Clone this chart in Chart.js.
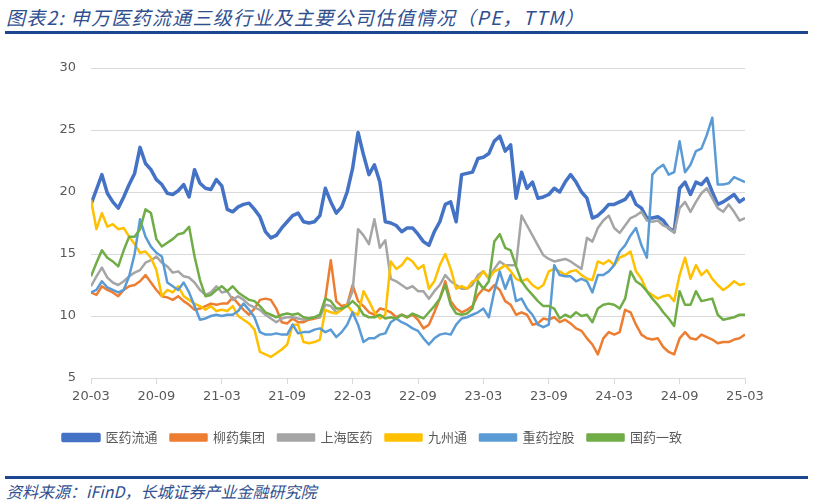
<!DOCTYPE html>
<html>
<head>
<meta charset="utf-8">
<script src="https://cdn.jsdelivr.net/npm/chart.js@4.4.1/dist/chart.umd.min.js"></script>
<style>
  html, body { margin: 0; padding: 0; background: #ffffff; }
  body { width: 815px; height: 502px; position: relative; overflow: hidden; }
  #title {
    position: absolute; left: 6px; top: 3px;
    font-family: "Noto Sans CJK SC", sans-serif; font-style: italic;
    font-size: 19px; letter-spacing: 1.3px; color: #2f4f8f; white-space: nowrap;
  }
  .rule { position: absolute; left: 5px; width: 803px; height: 3px; background: #1d4691; }
  #footer {
    position: absolute; left: 6px; top: 479px;
    font-family: "Noto Sans CJK SC", sans-serif; font-style: italic;
    font-size: 16px; color: #2f4f8f; white-space: nowrap;
  }
  #chartBox { position: absolute; left: 0; top: 0; width: 815px; height: 470px; }
</style>
</head>
<body>
<div id="title">图表2: 申万医药流通三级行业及主要公司估值情况（PE，TTM）</div>
<div class="rule" style="top:31px"></div>
<div id="chartBox"><canvas id="peChart" width="815" height="470"></canvas></div>
<div class="rule" style="top:476px"></div>
<div id="footer">资料来源：iFinD，长城证券产业金融研究院</div>

<script>
// half-month steps from 2020-03 (index 0) to 2025-03 (index 120)
const tickLabels = ["20-03", "20-09", "21-03", "21-09", "22-03", "22-09", "23-03", "23-09", "24-03", "24-09", "25-03"];
const seriesNames = ["医药流通", "柳药集团", "上海医药", "九州通", "重药控股", "国药一致"];
const seriesColors = ["#4472c4", "#ed7d31", "#a5a5a5", "#ffc000", "#5b9bd5", "#70ad47"];

const yiyaoLiutong = [
  19.0, 20.2, 21.4, 19.9, 19.2, 18.7, 19.6, 20.6, 21.5, 23.6, 22.3, 21.8, 21.0, 20.6, 19.9, 19.8, 20.1, 20.6, 19.6, 21.8,
  20.7, 20.3, 20.2, 21.0, 20.5, 18.6, 18.4, 18.8, 19.0, 19.1, 18.6, 18.0, 16.8, 16.3, 16.5, 17.1, 17.6, 18.1, 18.3, 17.6,
  17.5, 17.6, 18.1, 20.3, 19.2, 18.3, 18.8, 20.0, 21.9, 24.8, 23.0, 21.4, 22.2, 20.8, 17.6, 17.5, 17.3, 16.8, 17.1, 17.1,
  16.6, 16.0, 15.7, 16.8, 17.6, 19.0, 19.2, 17.6, 21.4, 21.5, 21.6, 22.7, 22.8, 23.1, 24.1, 24.5, 23.3, 23.8, 19.5, 21.6,
  20.3, 20.8, 19.5, 19.6, 19.8, 20.3, 20.0, 20.8, 21.4, 20.8, 20.0, 19.5, 17.9, 18.1, 18.5, 19.0, 19.0, 19.2, 19.4, 20.0,
  19.0, 18.7, 17.9, 17.9, 18.0, 17.7, 17.1, 16.8, 20.3, 20.8, 19.8, 20.8, 20.6, 21.1, 20.0, 19.0, 19.2, 19.5, 19.8, 19.2,
  19.5
];
const liuyaoJituan = [
  11.9, 11.7, 12.4, 12.1, 11.9, 11.6, 12.1, 12.4, 12.5, 12.8, 13.3, 12.7, 12.1, 11.6, 11.5, 11.3, 11.6, 11.2, 10.9, 10.5,
  10.6, 10.8, 11.0, 10.9, 11.0, 11.0, 11.5, 11.0, 10.5, 10.1, 10.6, 11.3, 11.4, 11.3, 10.6, 9.5, 9.4, 9.8, 9.5, 9.5,
  9.7, 9.8, 9.9, 11.4, 14.5, 11.2, 10.8, 10.9, 12.5, 11.2, 10.8, 10.3, 10.1, 10.6, 10.5, 10.3, 9.9, 10.1, 9.9, 10.1,
  9.7, 9.0, 9.3, 10.3, 11.4, 12.8, 11.2, 10.6, 10.3, 10.5, 10.8, 11.7, 12.2, 12.0, 12.5, 12.1, 11.2, 10.9, 10.1, 10.3,
  10.1, 9.3, 9.4, 9.8, 9.7, 9.9, 9.5, 9.7, 9.4, 9.0, 8.8, 8.2, 7.7, 6.9, 8.2, 8.7, 8.5, 8.7, 10.5, 10.3,
  9.3, 8.5, 8.2, 8.1, 8.2, 7.5, 7.1, 6.9, 8.2, 8.7, 8.2, 8.1, 8.5, 8.3, 8.1, 7.8, 7.9, 7.9, 8.1, 8.2,
  8.5
];
const shanghaiYiyao = [
  12.4, 13.2, 13.9, 13.1, 12.7, 12.5, 12.8, 13.2, 13.5, 13.7, 14.3, 14.5, 14.8, 14.3, 14.0, 13.5, 13.6, 13.2, 13.1, 12.7,
  12.1, 11.7, 11.9, 12.4, 11.9, 12.0, 11.3, 11.6, 11.3, 10.9, 10.7, 10.5, 10.1, 9.8, 9.5, 9.8, 9.9, 9.9, 9.8, 9.7,
  9.8, 9.9, 9.9, 10.9, 10.8, 10.3, 10.5, 10.9, 12.0, 17.0, 16.5, 15.8, 17.8, 15.5, 16.1, 13.0, 12.8, 12.5, 12.2, 12.4,
  12.0, 12.0, 11.4, 12.0, 12.5, 13.3, 12.8, 12.5, 12.2, 12.2, 12.5, 13.3, 13.6, 13.0, 13.8, 14.4, 14.1, 14.1, 14.1, 18.1,
  17.3, 16.5, 15.7, 14.9, 14.6, 14.4, 14.5, 14.6, 14.4, 14.1, 13.8, 16.3, 16.0, 17.1, 17.7, 18.1, 17.1, 16.7, 17.3, 17.9,
  18.1, 18.4, 17.7, 17.6, 17.7, 17.3, 17.1, 16.7, 18.7, 19.2, 18.4, 19.2, 19.9, 20.3, 19.5, 18.7, 18.4, 19.0, 18.4, 17.7,
  17.9
];
const jiuzhoutong = [
  19.4, 17.0, 18.3, 17.2, 17.4, 17.0, 17.1, 16.4, 15.8, 15.1, 15.2, 14.7, 13.7, 11.6, 12.1, 11.9, 12.4, 11.6, 11.3, 11.0,
  10.8, 10.5, 10.8, 10.4, 10.5, 10.4, 10.8, 10.0, 9.7, 9.4, 8.9, 7.1, 6.9, 6.7, 7.0, 7.3, 7.7, 9.3, 9.3, 7.9,
  7.8, 7.9, 8.1, 10.5, 10.3, 10.2, 10.5, 10.9, 10.3, 10.1, 12.0, 11.2, 10.3, 9.8, 10.1, 14.4, 13.8, 14.1, 14.7, 14.4,
  13.8, 14.1, 12.2, 12.8, 14.1, 15.0, 13.8, 12.2, 12.4, 12.2, 12.8, 13.0, 13.6, 13.0, 13.6, 13.8, 14.1, 13.6, 13.0, 12.8,
  13.0, 12.5, 12.2, 12.5, 13.6, 13.8, 13.6, 13.3, 13.6, 13.7, 13.3, 13.0, 12.9, 14.4, 14.2, 14.5, 14.1, 14.7, 14.9, 15.2,
  13.6, 13.0, 12.0, 11.7, 11.4, 11.6, 11.7, 11.2, 13.3, 14.7, 13.0, 14.1, 13.3, 13.7, 13.0, 12.5, 12.1, 12.4, 12.8, 12.5,
  12.6
];
const zhongyaoKonggu = [
  11.9, 12.1, 12.8, 12.3, 12.1, 11.9, 12.1, 13.2, 15.0, 17.8, 16.4, 15.6, 15.1, 14.8, 12.7, 12.4, 12.1, 12.7, 11.9, 10.8,
  9.7, 9.8, 10.0, 10.1, 10.0, 10.1, 10.1, 10.4, 11.0, 10.5, 9.9, 8.7, 8.5, 8.5, 8.6, 8.5, 8.5, 9.3, 8.6, 8.7,
  8.7, 8.9, 9.0, 8.7, 8.9, 8.3, 8.7, 9.3, 10.3, 9.3, 7.9, 8.2, 8.2, 8.5, 8.6, 9.5, 9.8, 9.5, 9.3, 9.0,
  8.8, 8.2, 7.7, 8.2, 8.5, 8.6, 8.5, 9.3, 9.8, 9.9, 10.1, 10.3, 10.6, 9.9, 12.0, 13.6, 12.2, 13.3, 11.2, 11.4,
  10.6, 10.1, 9.3, 9.1, 9.3, 14.1, 13.3, 13.2, 13.2, 12.8, 13.0, 12.8, 11.9, 13.3, 13.3, 13.6, 14.1, 15.2, 15.7, 16.5,
  17.1, 15.7, 14.7, 21.4, 21.9, 22.2, 21.4, 21.6, 24.1, 21.6, 22.2, 23.3, 23.5, 24.6, 26.0, 20.6, 20.6, 20.7, 21.2, 21.0,
  20.8
];
const guoyaoYizhi = [
  13.2, 14.3, 15.3, 14.7, 14.4, 14.0, 15.3, 16.4, 16.4, 17.0, 18.6, 18.3, 16.2, 15.6, 15.9, 16.2, 16.6, 16.7, 17.2, 14.8,
  12.9, 11.6, 11.7, 12.1, 12.4, 12.0, 12.4, 11.9, 11.6, 11.3, 11.2, 10.8, 10.3, 10.1, 9.9, 10.1, 10.2, 10.1, 10.2, 9.9,
  9.8, 9.9, 10.1, 11.4, 11.2, 10.6, 10.6, 10.8, 11.2, 10.8, 10.1, 9.9, 9.9, 10.1, 9.8, 9.9, 9.8, 10.1, 9.9, 10.2,
  10.0, 9.8, 10.3, 10.8, 11.4, 12.5, 10.9, 10.2, 10.1, 10.2, 10.6, 12.8, 12.2, 12.8, 16.0, 16.6, 15.5, 15.3, 14.0, 12.8,
  12.2, 11.7, 11.2, 10.8, 10.8, 10.6, 9.8, 10.1, 9.9, 10.3, 10.0, 10.1, 9.5, 10.6, 10.9, 11.0, 10.9, 10.6, 11.4, 13.6,
  12.8, 12.5, 12.0, 11.4, 10.9, 10.3, 9.8, 9.2, 12.0, 10.9, 10.9, 12.0, 11.2, 11.3, 11.4, 10.1, 9.7, 9.8, 9.9, 10.1,
  10.1
];

const allSeries = [yiyaoLiutong, liuyaoJituan, shanghaiYiyao, jiuzhoutong, zhongyaoKonggu, guoyaoYizhi];

function buildDatasets() {
  return allSeries.map((values, idx) => ({
    label: seriesNames[idx],
    data: values.map((v, i) => ({ x: i, y: v })),
    borderColor: seriesColors[idx],
    backgroundColor: seriesColors[idx],
    borderWidth: idx === 0 ? 3.5 : 2.5,
    pointRadius: 0,
    tension: 0,
    borderJoinStyle: "round",
    order: allSeries.length - idx
  }));
}

const axisFont = { family: "'DejaVu Sans', sans-serif", size: 13 };

new Chart(document.getElementById("peChart"), {
  type: "line",
  data: { datasets: buildDatasets() },
  options: {
    responsive: false,
    animation: false,
    layout: { padding: { top: 68, left: 0, right: 70, bottom: 16 } },
    plugins: {
      tooltip: { enabled: false },
      legend: {
        position: "bottom",
        labels: {
          boxWidth: 36,
          boxHeight: 6,
          padding: 13,
          color: "#595959",
          font: { family: "'Noto Sans CJK SC', sans-serif", size: 13 },
          sort: (a, b) => a.datasetIndex - b.datasetIndex
        }
      }
    },
    scales: {
      x: {
        type: "linear",
        min: 0,
        max: 120,
        afterFit: (scale) => { scale.height = 40; },
        grid: { drawOnChartArea: false, drawTicks: true, tickLength: 6, tickColor: "#d9d9d9" },
        border: { color: "#d9d9d9" },
        ticks: {
          stepSize: 12,
          autoSkip: false,
          maxRotation: 0,
          padding: 5,
          color: "#595959",
          font: axisFont,
          callback: (value) => tickLabels[value / 12]
        }
      },
      y: {
        min: 5,
        max: 30,
        afterFit: (scale) => { scale.width = 91; },
        grid: { color: "#d9d9d9", drawTicks: false },
        border: { display: false },
        ticks: { stepSize: 5, padding: 15, color: "#595959", font: axisFont }
      }
    }
  }
});
</script>
</body>
</html>
